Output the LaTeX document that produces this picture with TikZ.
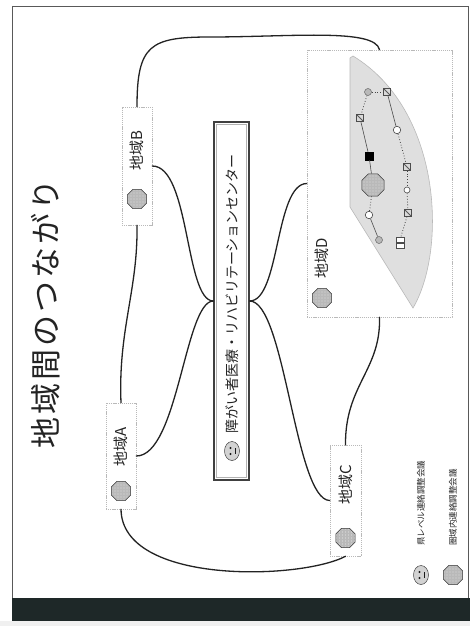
\documentclass[tikz,border=0pt]{standalone}
\usepackage{fontspec}
\newfontfamily\jpfont{Noto Sans CJK JP}
\newfontfamily\jptitlefont[LetterSpace=10]{Noto Sans CJK JP}
\usetikzlibrary{shapes.geometric}

\definecolor{barcol}{RGB}{30,40,40}
\definecolor{ink}{RGB}{35,35,35}

\tikzset{
  link/.style={line width=1.3pt, draw=ink, line cap=round},
  areabox/.style={draw=gray!55, dash pattern=on 1.2pt off 0.9pt, line width=0.6pt, fill=white, inner sep=0},
  arealabel/.style={rotate=90, font=\jpfont\fontsize{15}{16}\selectfont, text=ink, inner sep=0},
  areaicon/.style={regular polygon, regular polygon sides=8, minimum size=#1, fill=gray!55, draw=gray!40!black,
    line width=0.5pt, inner sep=0,
    path picture={\foreach \i in {-9,-6,...,9} \foreach \j in {-9,-6,...,9}
      \fill[gray!25] ([shift={(\i pt,\j pt)}]path picture bounding box.center) circle (0.7pt);}},
  areaicon/.default=21pt,
  facebadge/.style={ellipse, minimum width=15pt, minimum height=19pt, fill=gray!35, draw=gray!50!black,
    line width=0.5pt, inner sep=0,
    path picture={
      \fill[gray!20!black] ([shift={(-1.5pt,3pt)}]path picture bounding box.center) circle (1.1pt);
      \fill[gray!20!black] ([shift={(-1.5pt,-3pt)}]path picture bounding box.center) circle (1.1pt);
      \draw[gray!20!black, line width=0.5pt] ([shift={(3pt,3pt)}]path picture bounding box.center)
        -- ([shift={(3pt,-3pt)}]path picture bounding box.center);}},
  netline/.style={line width=0.6pt, draw=black!70},
  netdot/.style={line width=0.8pt, draw=gray!55!black, dotted},
  hatchsq/.style={rectangle, minimum size=7pt, inner sep=0, draw=black!70, line width=0.5pt, fill=gray!30,
    path picture={\draw[black!65, line width=0.9pt] (path picture bounding box.north west) -- (path picture bounding box.south east);}},
  ring/.style={circle, minimum size=7.5pt, inner sep=0, draw=black!70, line width=0.6pt, fill=white},
  device/.style={circle, minimum size=7pt, inner sep=0, draw=black!60, line width=0.5pt, fill=gray!55},
  screen/.style={rectangle, minimum width=8pt, minimum height=5pt, inner sep=0, draw=black!70, fill=white, line width=0.5pt},
  legendtext/.style={rotate=90, anchor=west, font=\jpfont\fontsize{8.5}{9}\selectfont, text=ink, inner sep=0},
}

\begin{document}
\begin{tikzpicture}[x=1pt, y=-1pt]
\useasboundingbox (0,0) rectangle (470,626);
\fill[white] (0,0) rectangle (470,626);

% slide frame and footer band
\draw[gray!70!black, line width=0.8pt] (12.5,6) -- (468,6) -- (468,598) (12.5,6) -- (12.5,598);
\fill[barcol] (12,598) rectangle (470,621);
\fill[gray!12] (0,621) rectangle (470,626);

% title
\node[rotate=90, font=\jptitlefont\fontsize{31}{33}\selectfont, text=ink, inner sep=0] (title) at (46,314) {地域間のつながり};

% central centre box (double frame)
\node[draw=gray!50!black, line width=1.3pt, fill=white, minimum width=35pt, minimum height=358pt, inner sep=0] (centre) at (231.5,301) {};
\draw[gray!60, line width=0.6pt] ([shift={(3.2pt,3.2pt)}]centre.south west) rectangle ([shift={(-3.2pt,-3.2pt)}]centre.north east);
\node[facebadge] (centreface) at (232,451) {};
\node[rotate=90, anchor=west, font=\jpfont\fontsize{14}{15}\selectfont, text=ink, inner sep=0] (centrelabel) at (232,434) {障がい者医療・リハビリテーションセンター};

% regional boxes
\node[areabox, minimum width=30pt, minimum height=106pt] (boxA) at (121,456) {};
\node[areabox, minimum width=30pt, minimum height=118pt] (boxB) at (137,166) {};
\node[areabox, minimum width=31pt, minimum height=111pt] (boxC) at (345.5,500.5) {};
\node[areabox, minimum width=145pt, minimum height=267pt] (boxD) at (379.5,183.5) {};

\node[arealabel] (labA) at (121,447) {地域A};
\node[areaicon] (icA) at (121,491) {};
\node[arealabel] (labB) at (137,151) {地域B};
\node[areaicon] (icB) at (137,199) {};
\node[arealabel] (labC) at (345.5,485) {地域C};
\node[areaicon] (icC) at (345.5,538) {};
\node[arealabel] (labD) at (322,258) {地域D};
\node[areaicon] (icD) at (322,298) {};

% network inside region D
\draw[fill=gray!25, draw=gray!55, line width=0.6pt]
  (350,58) -- (350,207) -- (413,308) .. controls (447,250) and (442,110) .. (353,56) -- cycle;

\node[device] (devA) at (368,92) {};
\node[hatchsq] (sqA) at (387,92) {};
\node[hatchsq] (sqB) at (360,118) {};
\node[ring] (ringA) at (397,130) {};
\node[rectangle, minimum size=8pt, inner sep=0, fill=black, draw=black] (blk) at (369,156) {};
\node[areaicon=24pt] (hub) at (373,185) {};
\node[hatchsq] (sqC) at (407,167) {};
\node[ring, minimum size=6pt] (ringB) at (407,190) {};
\node[hatchsq] (sqD) at (408,213) {};
\node[ring] (ringC) at (369,215) {};
\node[device] (devB) at (379,240) {};
\node[screen] (scrA) at (400,240) {};
\node[screen] (scrB) at (400,246) {};

\draw[netline] (sqB) -- (blk);
\draw[netline] (blk) -- (hub);
\draw[netline] (sqA) -- (ringA);
\draw[netdot] (devA) -- (sqA);
\draw[netdot] (devA) -- (sqB);
\draw[netdot] (hub) -- (ringC);
\draw[netline] (ringC) -- (devB);
\draw[netdot] (ringA) -- (sqC);
\draw[netdot] (sqC) -- (ringB);
\draw[netdot] (ringB) -- (sqD);
\draw[netdot] (sqD) -- (scrA);

% connectors between the centre and the regions
\draw[link] (centre.west) .. controls (185,301) and (190,166) .. (boxB.east);
\draw[link] (centre.west) .. controls (185,301) and (178,456) .. (boxA.east);
\draw[link] (centre.east) .. controls (280,301) and (275,184) .. (boxD.west);
\draw[link] (centre.east) .. controls (285,301) and (295,500) .. (boxC.west);

% connectors between neighbouring regions
\draw[link] (boxA.north) .. controls (118,330) and (138,290) .. (boxB.south);
\draw[link] (boxB.north) .. controls (137,45) and (150,37) .. (210,37) .. controls (290,37) and (375,28) .. (boxD.north);
\draw[link] (boxA.south) .. controls (122,585) and (300,580) .. (boxC.south);
\draw[link] (boxD.south) .. controls (381,370) and (345,385) .. (boxC.north);

% legend
\node[facebadge] (legface) at (421,575) {};
\node[areaicon=21pt] (legarea) at (453,575) {};
\node[legendtext] (legfacetext) at (421,546) {県レベル連絡調整会議};
\node[legendtext] (legareatext) at (453,546) {圏域内連絡調整会議};
\end{tikzpicture}
\end{document}
